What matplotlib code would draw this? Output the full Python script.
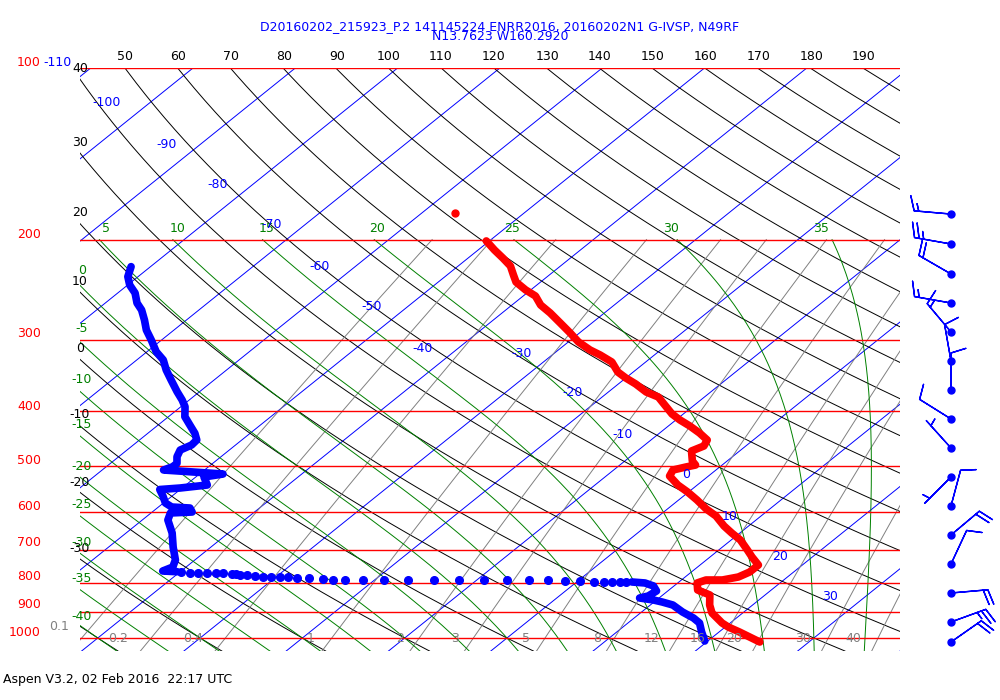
import numpy as np
import matplotlib
matplotlib.use("Agg")
import matplotlib.pyplot as plt

# -----------------------------
# Sounding data
# -----------------------------
temp_p = [201.1, 208.6, 215.5, 222.5, 230.8, 237.4, 245.1, 251.2, 260.5, 269.0,
          280.1, 291.7, 302.5, 312.4, 318.8, 328.0, 341.5, 349.8, 358.4, 370.2,
          377.8, 390.2, 404.6, 414.5, 424.7, 436.9, 449.4, 460.4, 469.8, 489.2,
          497.2, 501.2, 507.3, 519.8, 539.0, 554.4, 572.7, 593.9, 610.9, 636.1,
          654.3, 673.1, 700.8, 720.9, 744.6, 766.0, 781.6, 791.1, 791.1, 800.7,
          823.7, 840.5, 875.2, 903.9, 941.2, 956.6, 976.1, 996.0, 1016.3]
temp_t = [-50.3, -48.4, -46.6, -44.9, -43.5, -42.4, -40.5, -38.8, -37.2, -35.3,
          -33.1, -30.9, -29.0, -26.9, -25.3, -23.3, -21.5, -20.0, -18.3, -16.3,
          -14.5, -12.9, -11.1, -9.6, -7.9, -6.1, -4.5, -4.1, -4.7, -3.4,
          -2.6, -3.3, -4.2, -3.8, -1.9, -0.1, 1.8, 3.8, 5.6, 7.6,
          9.2, 10.9, 12.8, 14.1, 15.7, 15.7, 15.2, 14.0, 12.4, 11.9,
          12.8, 14.6, 15.8, 17.0, 19.2, 20.3, 22.0, 23.6, 25.2]

# single temperature point above the trace
temp_dot_p = [179.6]
temp_dot_t = [-56.8]

dew_p = [223.1, 232.3, 240.3, 248.2, 258.4, 265.8, 276.8, 288.2, 300.1, 314.6,
         325.3, 338.7, 352.7, 369.7, 382.3, 392.8, 409.0, 423.0, 437.4, 449.4,
         458.6, 468.0, 480.8, 493.8, 500.6, 507.3, 510.4, 515.6, 521.8, 539.0,
         545.6, 548.9, 563.5, 579.7, 589.1, 591.5, 601.1, 603.5, 620.8, 654.3,
         692.4, 729.7, 750.7, 762.9, 765.1]
dew_t = [-81.9, -81.0, -79.8, -78.3, -76.9, -75.6, -74.1, -72.7, -71.0, -69.1,
         -67.4, -65.9, -64.2, -62.2, -60.7, -59.6, -58.4, -56.9, -55.4, -54.4,
         -54.3, -54.8, -54.3, -53.5, -53.5, -54.0, -51.6, -47.7, -49.2, -47.9,
         -50.2, -52.0, -50.9, -49.8, -48.7, -46.8, -46.1, -48.1, -47.5, -45.5,
         -43.7, -41.9, -41.3, -41.8, -40.3]

# sparse dewpoint points in the dry layer
dewdot_p = [765.1, 768.1, 768.1, 768.1, 768.1, 770.0, 772.2, 773.1, 775.3, 775.3,
            778.4, 780.7, 780.7, 780.7, 782.6, 783.8, 784.8, 788.0, 791.1, 791.1,
            791.1, 791.1, 791.1, 791.1, 791.1, 791.1, 791.1, 791.1, 791.1, 794.3,
            794.3, 797.5, 797.5, 797.5, 797.5, 797.5]
dewdot_t = [-39.9, -38.9, -38.1, -37.3, -36.4, -35.6, -34.7, -34.2, -33.8, -33.1,
            -32.2, -31.3, -30.5, -29.6, -28.8, -27.9, -26.6, -25.2, -24.1, -22.9,
            -21.1, -19.1, -16.7, -14.2, -11.7, -9.3, -7.1, -4.9, -3.0, -1.3,
            0.2, 1.7, 2.7, 3.5, 4.2, 4.8]

dew_low_p = [797.5, 800.7, 810.5, 827.0, 843.9, 850.8, 857.7, 864.7, 875.2, 900.3,
             922.4, 941.2, 976.1, 1012.2]
dew_low_t = [5.4, 6.8, 8.0, 8.9, 8.7, 8.1, 9.7, 10.8, 12.2, 14.0,
             15.8, 17.0, 18.3, 19.7]

# winds
wind_p = [180.4, 203.6, 229.8, 258.4, 290.5, 326.6, 367.2, 412.8,
          464.2, 521.8, 586.7, 659.6, 741.6, 833.8, 937.4, 1016.3]
wind_dir = [275, 280, 300, 280, 320, 350, 360, 302,
            318, 225, 15, 50, 25, 85, 70, 55]
wind_spd = [15, 25, 20, 15, 15, 10, 10, 10,
            5, 5, 10, 20, 10, 20, 25, 20]

# background lines
pressure_levels = [100, 200, 300, 400, 500, 600, 700, 800, 900, 1000]
isotherms = np.arange(-160, 60, 10)
dry_adiabats = np.arange(-60, 240, 10)
moist_adiabats = np.arange(-40, 40, 5)
mixing_ratios = [0.1, 0.2, 0.4, 1, 2, 3, 5, 8, 12, 16, 20, 30, 40]

# -----------------------------
# Skew-T helpers
# -----------------------------
SKEW = 30.1
P_BOT = 1053.9
P_TOP = 100.0


def skew_x(t, p):
    return np.asarray(t) + SKEW * np.log(1000.0 / np.asarray(p))


def es(tc):
    return 6.112 * np.exp(17.67 * tc / (tc + 243.5))


def dtdp(p, t):
    tc = t - 273.15
    e = es(tc)
    rs = 0.622 * e / (p - e)
    num = 287.04 * t + 2.501e6 * rs
    den = 1004.6 + 2.501e6 ** 2 * rs * 0.622 / (287.04 * t * t)
    return num / den / p


def pseudo_adiabat(tw, p_grid):
    t = tw + 273.15
    out = [t]
    for i in range(len(p_grid) - 1):
        p0, h = p_grid[i], p_grid[i + 1] - p_grid[i]
        k1 = dtdp(p0, t)
        k2 = dtdp(p0 + h / 2, t + h / 2 * k1)
        k3 = dtdp(p0 + h / 2, t + h / 2 * k2)
        k4 = dtdp(p0 + h, t + h * k3)
        t = t + h / 6 * (k1 + 2 * k2 + 2 * k3 + k4)
        out.append(t)
    return np.array(out) - 273.15


fig = plt.figure(figsize=(10, 7), dpi=100)
ax = fig.add_axes([0.08, 1 - 651 / 700, 0.82, 583 / 700])
ax.set_yscale("log")
ax.set_ylim(P_BOT, P_TOP)
ax.set_xlim(-41.74, 38.42)
ax.axis("off")

p_all = np.geomspace(P_BOT, P_TOP, 200)

# isotherms
for t in isotherms:
    ax.plot(skew_x(np.full_like(p_all, t), p_all), p_all, color="blue", lw=0.7)

# dry adiabats
for th in dry_adiabats:
    t = (th + 273.15) * (p_all / 1000.0) ** 0.288 - 273.15
    ax.plot(skew_x(t, p_all), p_all, color="black", lw=0.7)

# mixing ratio lines
p_mr = np.geomspace(P_BOT, 200, 100)
for w in mixing_ratios:
    e = w * p_mr / (622.0 + w)
    le = np.log(e / 6.112)
    t = 243.5 * le / (17.67 - le)
    ax.plot(skew_x(t, p_mr), p_mr, color="gray", lw=0.7)

# pseudo-adiabats
p_up = np.arange(1000.0, 199.0, -5.0)
p_dn = np.arange(1000.0, P_BOT + 5, 5.0)
for tw in moist_adiabats:
    t_up = pseudo_adiabat(tw, p_up)
    t_dn = pseudo_adiabat(tw, p_dn)
    pp = np.concatenate([p_dn[::-1], p_up[1:]])
    tt = np.concatenate([t_dn[::-1], t_up[1:]])
    ax.plot(skew_x(tt, pp), pp, color="green", lw=0.7)

# pressure lines
for p in pressure_levels:
    ax.axhline(p, color="red", lw=1.0)

# profiles
ax.plot(skew_x(temp_t, temp_p), temp_p, color="red", lw=5.5,
        solid_capstyle="round", solid_joinstyle="round")
ax.plot(skew_x(temp_dot_t, temp_dot_p), temp_dot_p, "o", color="red", ms=5)
ax.plot(skew_x(dew_t, dew_p), dew_p, color="blue", lw=5.5,
        solid_capstyle="round", solid_joinstyle="round")
ax.plot(skew_x(dewdot_t, dewdot_p), dewdot_p, "o", color="blue", ms=5.5)
ax.plot(skew_x(dew_low_t, dew_low_p), dew_low_p, color="blue", lw=5.5,
        solid_capstyle="round", solid_joinstyle="round")

# -----------------------------
# Wind barbs
# -----------------------------
ax2 = fig.add_axes([0.9, 1 - 651 / 700, 0.1, 583 / 700])
ax2.set_yscale("log")
ax2.set_ylim(P_BOT, P_TOP)
ax2.set_xlim(0, 1)
ax2.axis("off")
wd = np.radians(wind_dir)
u = -np.array(wind_spd) * np.sin(wd)
v = -np.array(wind_spd) * np.cos(wd)
bx = np.full(len(wind_p), 0.51)
ax2.barbs(bx, wind_p, u, v, color="blue", length=7.3, lw=1, clip_on=False)
ax2.plot(bx, wind_p, "o", color="blue", ms=5, clip_on=False)


# -----------------------------
# Labels
# -----------------------------
def label(xp, yp, s, color, ha="center"):
    fig.text(xp / 1000, 1 - yp / 700, s, color=color, ha=ha, va="center",
             fontsize=9)


label(500, 27, "D20160202_215923_P.2 141145224 ENRR2016, 20160202N1 G-IVSP, N49RF", "blue")
label(500, 36, "N13.7623 W160.2920", "blue")
label(3, 680, "Aspen V3.2, 02 Feb 2016  22:17 UTC", "black", ha="left")

p_lab_y = [62, 234, 334, 406, 461, 506, 543, 577, 605, 632]
for p, yp in zip(pressure_levels, p_lab_y):
    label(41, yp, str(p), "red", ha="right")
label(57, 62, "-110", "blue")

theta_top_x = [125, 178, 231, 284, 337, 389, 441, 494, 548, 600, 653, 706, 759, 812, 864]
for th, xp in zip(range(50, 200, 10), theta_top_x):
    label(xp, 56, str(th), "black")
theta_left_y = [68, 142, 212, 282, 348, 415, 482, 549]
for th, yp in zip(range(40, -40, -10), theta_left_y):
    label(80, yp, str(th), "black")

tw_left_y = [270, 328, 379, 424, 466, 504, 542, 579, 616]
for tw, yp in zip(range(0, -45, -5), tw_left_y):
    label(82, yp, str(tw), "green")
tw_top_x = [106, 178, 267, 377, 512, 671, 821]
for tw, xp in zip(range(5, 40, 5), tw_top_x):
    label(xp, 228, str(tw), "green")

iso_lab = [(-100, 107, 102), (-90, 167, 144), (-80, 218, 185), (-70, 272, 225),
           (-60, 320, 266), (-50, 372, 307), (-40, 423, 348), (-30, 522, 353),
           (-20, 573, 393), (-10, 623, 434), (0, 686, 474), (10, 730, 516),
           (20, 780, 556), (30, 830, 597)]
for t, xp, yp in iso_lab:
    label(xp, yp, str(t), "blue")

mr_lab_x = [59, 118, 193, 311, 400, 455, 526, 597, 652, 698, 734, 803, 853]
for w, xp in zip(mixing_ratios, mr_lab_x):
    yp = 626 if w == 0.1 else 639
    label(xp, yp, str(w), "gray")

fig.savefig("out.png", dpi=100)
